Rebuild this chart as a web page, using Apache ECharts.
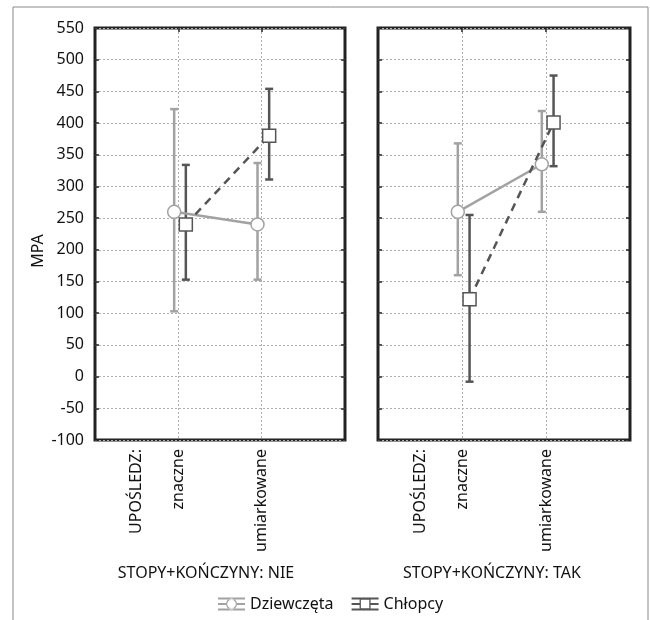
<!DOCTYPE html>
<html>
<head>
<meta charset="utf-8">
<script src="https://cdn.jsdelivr.net/npm/echarts@6.0.0/dist/echarts.min.js"></script>
<style>
  html, body { margin: 0; padding: 0; background: #fff; }
  #chart { width: 650px; height: 620px; }
</style>
</head>
<body>
<div id="chart"></div>
<script>
// data (panel order: NIE, TAK; category order as below)
const categories = ['znaczne', 'umiarkowane']
const factorName = 'UPOŚLEDZ:'
const panelTitles = ['STOPY+KOŃCZYNY: NIE', 'STOPY+KOŃCZYNY: TAK']
const seriesNames = ['Dziewczęta', 'Chłopcy']

const girlsMean = [[260, 240], [260, 335]]
const girlsLow = [[103, 153], [160, 260]]
const girlsHigh = [[422, 337], [368, 419]]

const boysMean = [[240, 380], [122, 401]]
const boysLow = [[153, 311], [-8, 332]]
const boysHigh = [[334, 454], [255, 475]]

const yMin = -100
const yMax = 550
const yStep = 50

const FONT = 'Noto Sans'
const girlsColor = '#a2a2a2'
const boysColor = '#555555'
const frameColor = '#222'

// small horizontal shift so the two groups don't overlap
const girlsShift = -0.05
const boysShift = 0.09

// legend icons that look like the error-bar glyphs of the original
const barsIcon = 'M0,0H27V2H0Z M0,11H27V13H0Z M0,5.5H8V7.5H0Z M19,5.5H27V7.5H19Z '
const girlsIcon = 'path://' + barsIcon +
  'M19,6.5A5.5,5.5 0 1,0 8,6.5A5.5,5.5 0 1,0 19,6.5Z M17.8,6.5A4.3,4.3 0 1,1 9.2,6.5A4.3,4.3 0 1,1 17.8,6.5Z'
const boysIcon = 'path://' + barsIcon +
  'M8,1H19V12H8Z M9.3,2.3V10.7H17.7V2.3Z'

const chart = echarts.init(document.getElementById('chart'))

function catLabel(v) {
  if (v === 0.5) return factorName
  return categories[Math.round(v) - 1] || ''
}

function errorBar(color) {
  return function (params, api) {
    const lo = api.coord([api.value(0), api.value(1)])
    const hi = api.coord([api.value(0), api.value(2)])
    const x = lo[0]
    const cap = 4
    const style = { stroke: color, lineWidth: 2.5 }
    return {
      type: 'group',
      children: [
        { type: 'line', shape: { x1: x, y1: lo[1], x2: x, y2: hi[1] }, style: style },
        { type: 'line', shape: { x1: x - cap, y1: lo[1], x2: x + cap, y2: lo[1] }, style: style },
        { type: 'line', shape: { x1: x - cap, y1: hi[1], x2: x + cap, y2: hi[1] }, style: style }
      ]
    }
  }
}

const grids = [
  { left: 95, right: 305, top: 28, bottom: 180 },
  { left: 378, right: 20, top: 28, bottom: 180 }
]

const xAxes = []
const yAxes = []
const series = []

grids.forEach(function (g, p) {
  g.show = true
  g.borderColor = frameColor
  g.borderWidth = 3
  g.backgroundColor = '#fff'

  // bottom x axis with rotated labels
  xAxes.push({
    gridIndex: p,
    type: 'value',
    position: 'bottom',
    min: 0,
    max: 3,
    interval: 1,
    axisLine: { show: false, onZero: false },
    axisTick: { show: false, customValues: [1, 2] },
    splitLine: { show: true, lineStyle: { color: '#b0b0b0', type: [2, 2], width: 1 } },
    axisLabel: {
      customValues: [0.5, 1, 2],
      rotate: 90,
      margin: 9,
      fontFamily: FONT,
      fontSize: 16,
      color: '#111',
      formatter: catLabel
    }
  })
  // top x axis, inner ticks only
  xAxes.push({
    gridIndex: p,
    type: 'value',
    position: 'top',
    min: 0,
    max: 3,
    interval: 1,
    axisLine: { show: false, onZero: false },
    axisTick: { show: true, inside: true, length: 4, customValues: [1, 2], lineStyle: { color: frameColor, width: 1.5 } },
    splitLine: { show: false },
    axisLabel: { show: false }
  })
  yAxes.push({
    gridIndex: p,
    type: 'value',
    position: 'left',
    min: yMin,
    max: yMax,
    interval: yStep,
    axisLine: { show: false, onZero: false },
    axisTick: { show: true, inside: true, length: 4, lineStyle: { color: frameColor, width: 1.5 } },
    splitLine: { show: true, lineStyle: { color: '#b0b0b0', type: [2, 2], width: 1 } },
    axisLabel: {
      show: p === 0,
      margin: 11,
      fontFamily: FONT,
      fontSize: 16,
      color: '#111'
    }
  })
  yAxes.push({
    gridIndex: p,
    type: 'value',
    position: 'right',
    min: yMin,
    max: yMax,
    interval: yStep,
    axisLine: { show: false, onZero: false },
    axisTick: { show: true, inside: true, length: 4, lineStyle: { color: frameColor, width: 1.5 } },
    splitLine: { show: false },
    axisLabel: { show: false }
  })

  const xi = p * 2
  const yi = p * 2

  series.push({
    type: 'custom',
    xAxisIndex: xi,
    yAxisIndex: yi,
    renderItem: errorBar(girlsColor),
    encode: { x: 0, y: [1, 2] },
    data: categories.map(function (c, i) { return [i + 1 + girlsShift, girlsLow[p][i], girlsHigh[p][i]] }),
    z: 2
  })
  series.push({
    type: 'custom',
    xAxisIndex: xi,
    yAxisIndex: yi,
    renderItem: errorBar(boysColor),
    encode: { x: 0, y: [1, 2] },
    data: categories.map(function (c, i) { return [i + 1 + boysShift, boysLow[p][i], boysHigh[p][i]] }),
    z: 2
  })
  series.push({
    name: seriesNames[0],
    type: 'line',
    xAxisIndex: xi,
    yAxisIndex: yi,
    data: categories.map(function (c, i) { return [i + 1 + girlsShift, girlsMean[p][i]] }),
    symbol: 'circle',
    symbolSize: 13,
    lineStyle: { color: girlsColor, width: 2.5 },
    itemStyle: { color: '#fff', borderColor: girlsColor, borderWidth: 1.5 },
    z: 3
  })
  series.push({
    name: seriesNames[1],
    type: 'line',
    xAxisIndex: xi,
    yAxisIndex: yi,
    data: categories.map(function (c, i) { return [i + 1 + boysShift, boysMean[p][i]] }),
    symbol: 'rect',
    symbolSize: 13,
    lineStyle: { color: boysColor, width: 2.5, type: [8, 6] },
    itemStyle: { color: '#fff', borderColor: boysColor, borderWidth: 1.5 },
    z: 4
  })
})

chart.setOption({
  animation: false,
  backgroundColor: '#fff',
  grid: grids,
  xAxis: xAxes,
  yAxis: yAxes,
  series: series,
  legend: {
    data: [
      { name: seriesNames[0], icon: girlsIcon, itemStyle: { color: girlsColor, borderWidth: 0 } },
      { name: seriesNames[1], icon: boysIcon, itemStyle: { color: boysColor, borderWidth: 0 } }
    ],
    left: 213,
    top: 591,
    itemWidth: 27,
    itemHeight: 14,
    itemGap: 18,
    textStyle: { fontFamily: FONT, fontSize: 16, color: '#111' }
  },
  graphic: [
    {
      type: 'rect',
      shape: { x: 13, y: 7, width: 635, height: 630 },
      style: { fill: null, stroke: '#8a8a8a', lineWidth: 1 },
      silent: true,
      z: -10
    },
    {
      type: 'text',
      x: 38,
      y: 251,
      rotation: Math.PI / 2,
      style: { text: 'MPA', fontFamily: FONT, fontSize: 16, fill: '#111', align: 'center', verticalAlign: 'middle' }
    },
    {
      type: 'text',
      x: 206,
      y: 573,
      style: { text: panelTitles[0], fontFamily: FONT, fontSize: 16, fill: '#111', align: 'center', verticalAlign: 'middle' }
    },
    {
      type: 'text',
      x: 492,
      y: 573,
      style: { text: panelTitles[1], fontFamily: FONT, fontSize: 16, fill: '#111', align: 'center', verticalAlign: 'middle' }
    }
  ]
})
</script>
</body>
</html>
